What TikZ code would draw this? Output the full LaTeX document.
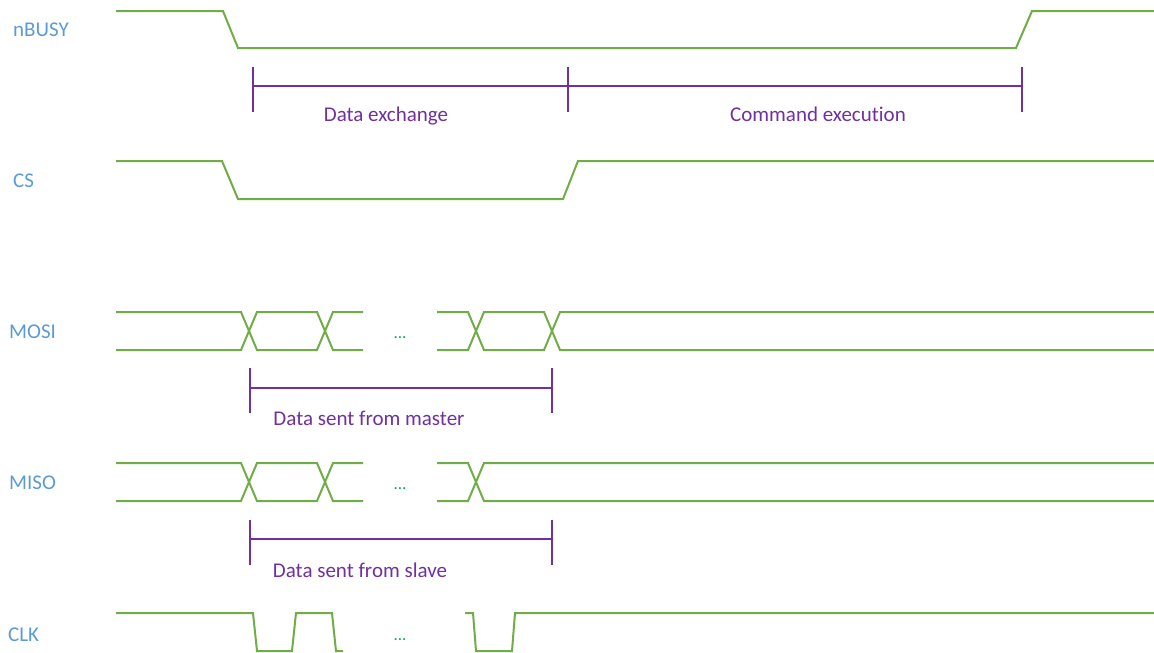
\documentclass[tikz,border=0pt]{standalone}
\usepackage{fontspec}
\setmainfont{Carlito}[Ligatures=NoCommon]
\usepackage{tikz}
\usetikzlibrary{arrows.meta}
\definecolor{wavegreen}{HTML}{70AD47}
\definecolor{spanpurple}{HTML}{7030A0}
\definecolor{sigblue}{HTML}{5B9BD5}
\definecolor{dotgreen}{HTML}{00B050}
\tikzset{
  wave/.style={wavegreen, line width=2pt},
  span/.style={spanpurple, line width=2pt},
  sig/.style={sigblue, anchor=base west, inner sep=0pt, font=\fontsize{21}{25}\selectfont},
  note/.style={spanpurple, anchor=base, inner sep=0pt, font=\fontsize{21}{25}\selectfont},
  skip/.style={dotgreen, anchor=base, inner sep=0pt, font=\fontsize{17}{19}\selectfont}
}

\begin{document}
\begin{tikzpicture}[x=1pt, y=-1pt]
  \useasboundingbox (0,0) rectangle (1154,653);

  % Signal names
  \node[sig] (nbusy) at (13,36) {nBUSY};
  \node[sig] (cs) at (13,187) {CS};
  \node[sig] (mosi) at (9,338) {MOSI};
  \node[sig] (miso) at (9,489) {MISO};
  \node[sig] (clk) at (8,641) {CLK};

  % nBUSY and CS
  \draw[wave] (116,11) -- (223,11) -- (238,48) -- (1016,48) -- (1032,11) -- (1154,11);
  \draw[wave] (116,161) -- (222,161) -- (238,199) -- (563,199) -- (578,161) -- (1154,161);

  % MOSI bus, two levels crossing
  \foreach \a/\b in {312/350, 350/312} {
    \draw[wave] (116,\a) -- (241,\a) -- (257,\b) -- (317,\b) -- (333,\a) -- (363,\a);
    \draw[wave] (437,\a) -- (468,\a) -- (484,\b) -- (544,\b) -- (560,\a) -- (1154,\a);
  }

  % MISO bus
  \foreach \a/\b in {463/501, 501/463} {
    \draw[wave] (116,\a) -- (241,\a) -- (257,\b) -- (317,\b) -- (333,\a) -- (363,\a);
    \draw[wave] (437,\a) -- (468,\a) -- (484,\b) -- (1154,\b);
  }

  % CLK
  \draw[wave] (116,613) -- (253,613) -- (257,651) -- (292,651) -- (296,613)
    -- (332,613) -- (336,651) -- (343,651);
  \draw[wave] (465,613) -- (473,613) -- (476,651) -- (512,651) -- (515,613) -- (1154,613);

  % skipped bits
  \node[skip] (gapmosi) at (400,338) {...};
  \node[skip] (gapmiso) at (400,489) {...};
  \node[skip] (gapclk) at (400,640) {...};

  % Phases
  \foreach \x in {253,568,1022} {
    \draw[span] (\x,67) -- (\x,112);
  }
  \draw[span] (253,86) -- (1022,86);
  \node[note] (xchg) at (386,121) {Data exchange};
  \node[note] (exec) at (818,121) {Command execution};

  % Data spans
  \foreach \y/\m in {368/388, 520/539} {
    \draw[span] (250,\y) -- (250,\y+45);
    \draw[span] (552,\y) -- (552,\y+45);
    \draw[span] (250,\m) -- (552,\m);
  }
  \node[note] (master) at (369,425) {Data sent from master};
  \node[note] (slave) at (360,577) {Data sent from slave};
\end{tikzpicture}
\end{document}
